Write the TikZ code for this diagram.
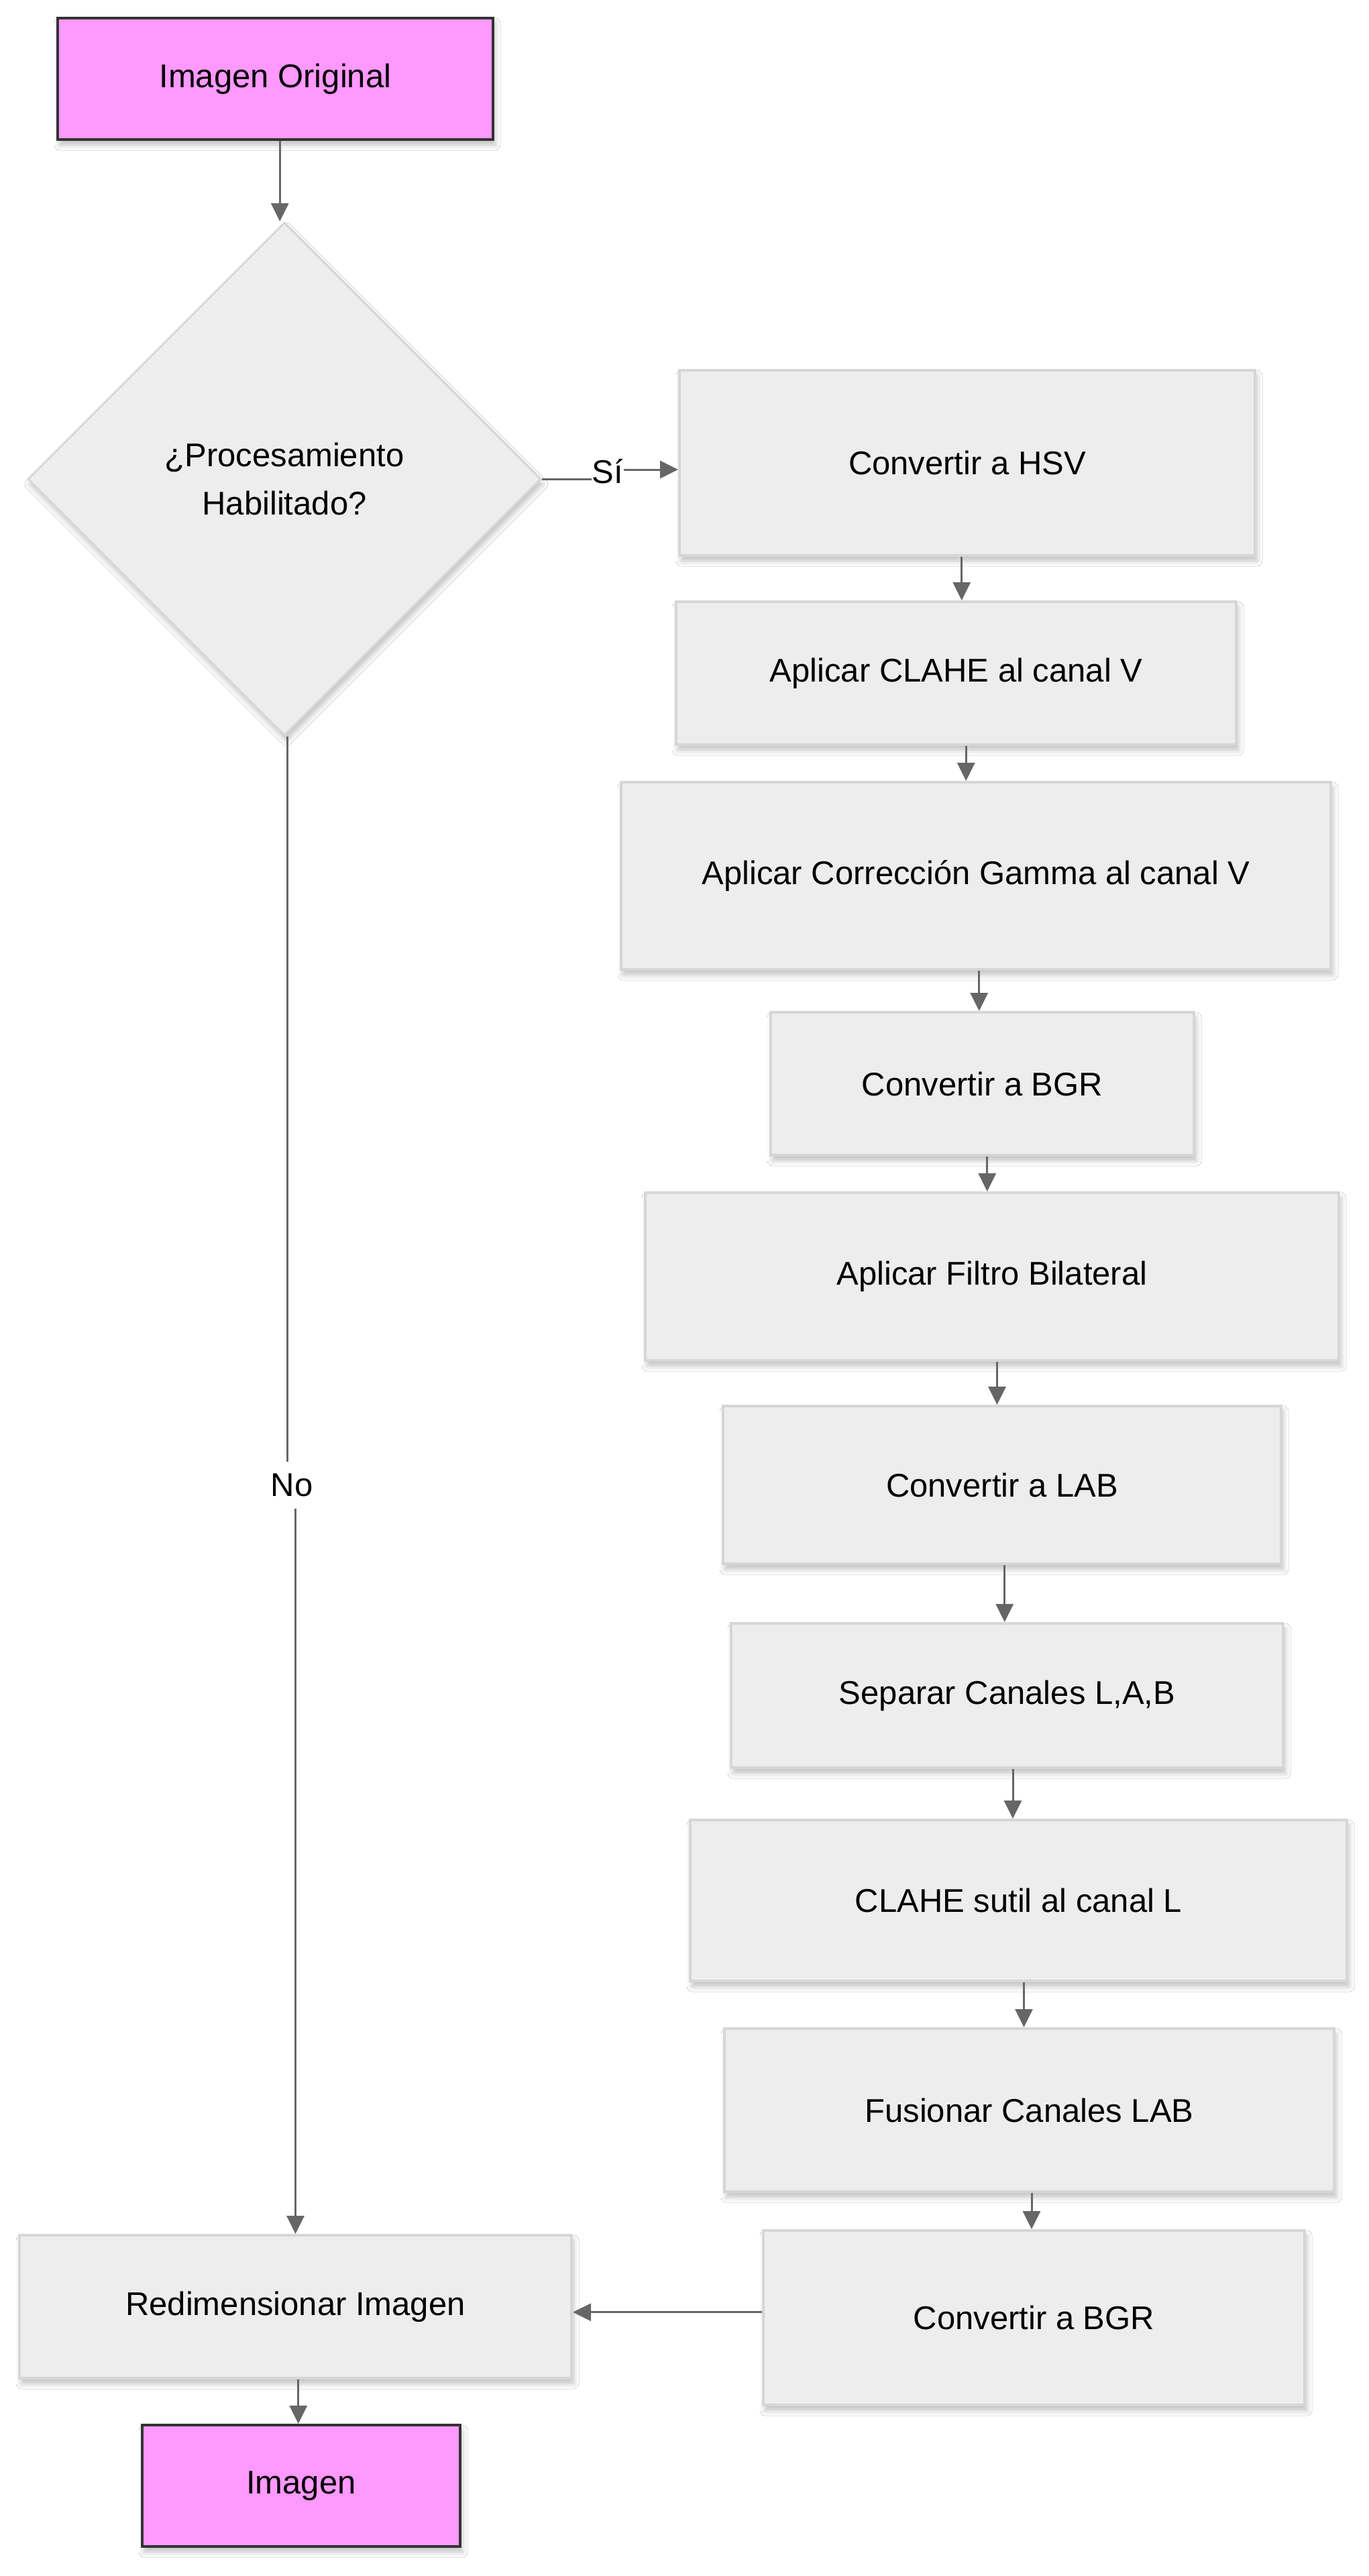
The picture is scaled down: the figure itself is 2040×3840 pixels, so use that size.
\documentclass[tikz,border=0pt]{standalone}
\usepackage{fontspec}
\setmainfont{Liberation Sans}
\usetikzlibrary{arrows.meta,shapes.geometric,calc,shadows.blur}
\definecolor{boxfill}{HTML}{EDEDED}
\definecolor{boxline}{HTML}{D6D6D6}
\definecolor{pinkfill}{HTML}{FF99FF}
\definecolor{pinkline}{HTML}{333333}
\definecolor{arrcol}{HTML}{666666}
\tikzset{
  base/.style={font=\fontsize{49}{72}\selectfont, align=center, inner sep=0pt,
    blur shadow={shadow xshift=3pt, shadow yshift=-8pt, shadow blur radius=8pt, shadow blur steps=6, shadow opacity=25}},
  proc/.style={base, rectangle, fill=boxfill, draw=boxline, line width=4pt},
  term/.style={base, rectangle, fill=pinkfill, draw=pinkline, line width=4pt},
  decis/.style={base, diamond, fill=boxfill, draw=boxline, line width=3pt},
  arr/.style={draw=arrcol, line width=3pt, -{Triangle[length=27pt,width=26pt]}},
  lbl/.style={font=\fontsize{49}{72}\selectfont, fill=white, inner xsep=1pt, inner ysep=18pt}
}
\begin{document}
\begin{tikzpicture}[x=1pt,y=-1pt]
\fill[white] (0,0) rectangle (2040,3840);
\useasboundingbox (0,0) rectangle (2040,3840);

\node[term, minimum width=649pt, minimum height=181pt] (orig) at (410.5,117.5) {Imagen Original};
\node[decis, minimum width=765pt, minimum height=765pt] (dec) at (424,714) {¿Procesamiento\\Habilitado?};
\node[proc, minimum width=858pt, minimum height=276pt] (hsv) at (1442,690) {Convertir a HSV};
\node[proc, minimum width=835pt, minimum height=213pt] (clahe) at (1425.5,1003.5) {Aplicar CLAHE al canal V};
\node[proc, minimum width=1058pt, minimum height=279pt] (gamma) at (1455,1305.5) {Aplicar Corrección Gamma al canal V};
\node[proc, minimum width=631pt, minimum height=213pt] (bgr) at (1464.5,1615.5) {Convertir a BGR};
\node[proc, minimum width=1034pt, minimum height=250pt] (bil) at (1479,1903) {Aplicar Filtro Bilateral};
\node[proc, minimum width=832pt, minimum height=235pt] (lab) at (1494,2213.5) {Convertir a LAB};
\node[proc, minimum width=823pt, minimum height=215pt] (sep) at (1501.5,2527.5) {Separar Canales L,A,B};
\node[proc, minimum width=979pt, minimum height=240pt] (clsut) at (1518.5,2833) {CLAHE sutil al canal L};
\node[proc, minimum width=909pt, minimum height=243pt] (fus) at (1534.5,3145.5) {Fusionar Canales LAB};
\node[proc, minimum width=807pt, minimum height=260pt] (bgrb) at (1541.5,3455) {Convertir a BGR};
\node[proc, minimum width=823pt, minimum height=213pt] (redim) at (440.5,3438.5) {Redimensionar Imagen};
\node[term, minimum width=474pt, minimum height=181pt] (img) at (449,3705.5) {Imagen};

% vertical connectors, straight, half way between the two centres
\foreach \a/\b in {orig/dec, hsv/clahe, clahe/gamma, gamma/bgr, bgr/bil, bil/lab, lab/sep, sep/clsut, clsut/fus, fus/bgrb, redim/img}{
  \coordinate (m) at ($(\a.south)!.5!(\b.north)$);
  \draw[arr] (m |- \a.south) -- (m |- \b.north);
}

% Sí branch
\coordinate (siC) at (906,703);
\draw[arr] (dec.east) -| (siC) |- ($(hsv.west)+(0,10)$);
\node[lbl] (si) at (siC) {Sí};

% No branch
\coordinate (noC) at (435,2214);
\draw[arr] ($(dec.south)+(4,0)$) |- (noC) -| (redim.north);
\node[lbl] (no) at (noC) {No};

% last conversion to resize
\coordinate (h) at ($(bgrb.west)!.5!(redim.east)$);
\draw[arr] (h -| bgrb.west) -- (h -| redim.east);
\end{tikzpicture}
\end{document}
